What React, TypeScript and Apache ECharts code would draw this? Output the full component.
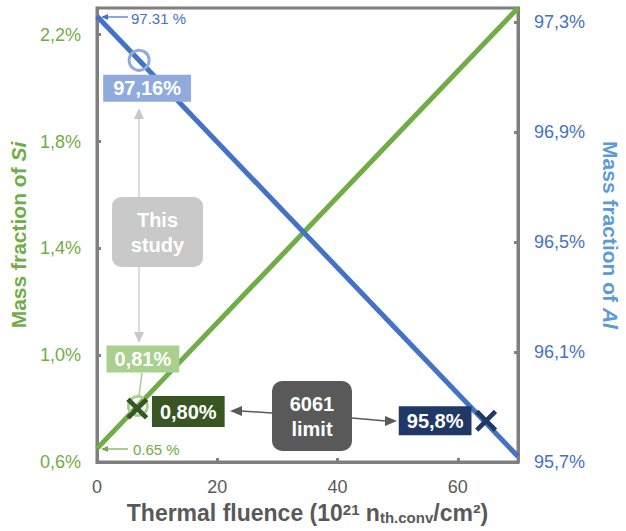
import React, { useEffect, useRef } from "react";
import * as echarts from "echarts";

const fluence = [0, 70];
const siValues = [0.65, 2.3];
const alValues = [97.32, 95.72];
const xTicks = [0, 20, 40, 60];
const siTicks = [0.6, 1.0, 1.4, 1.8, 2.2];
const alTicks = [95.7, 96.1, 96.5, 96.9, 97.3];
const siStudy = [6.8, 0.81];
const siLimit = [6.7, 0.8];
const alStudy = [7.0, 97.16];
const alLimit = [64.7, 95.85];

const FONT = "Liberation Sans, Arial, sans-serif";
const GREEN = "#70ad47";
const BLUE = "#4472c4";
const GRAY = "#7f7f7f";
const TXT = "#595959";
const CROSS =
  "path://M3,0 L10,7 L17,0 L20,3 L13,10 L20,17 L17,20 L10,13 L3,20 L0,17 L7,10 L0,3 Z";

const fmt = (v: number) => v.toFixed(1).replace(".", ",") + "%";

export default function App() {
  const ref = useRef<HTMLDivElement>(null);
  useEffect(() => {
    const chart = echarts.init(ref.current!, null, { renderer: "svg" });
    const boxLabel = (text: string, bg: string, offset: number[], pad: number[]) => ({
      show: true,
      position: "inside",
      offset,
      formatter: text,
      color: "#fff",
      opacity: 1,
      fontFamily: FONT,
      fontWeight: "bold",
      fontSize: 20,
      backgroundColor: bg,
      padding: pad,
    });
    chart.setOption({
      animation: false,
      textStyle: { fontFamily: FONT },
      grid: {
        left: 97,
        right: 108,
        top: 8,
        bottom: 69,
        outerBoundsMode: "none",
        containLabel: false,
        show: true,
        borderColor: GRAY,
        borderWidth: 3,
      },
      xAxis: {
        type: "value",
        min: 0,
        max: 70,
        interval: 20,
        splitLine: { show: false },
        axisLine: { show: true, lineStyle: { color: GRAY, width: 3 } },
        axisTick: {
          show: true,
          inside: true,
          length: 4,
          customValues: xTicks,
          lineStyle: { color: GRAY, width: 3 },
        },
        axisLabel: { customValues: xTicks, color: TXT, fontSize: 18, margin: 16, fontFamily: FONT },
        name: "{b|Thermal fluence (10}{sup|21}{b| n}{sub|th.conv}{b|/cm²)}",
        nameLocation: "middle",
        nameGap: 39,
        nameTextStyle: {
          rich: {
            b: { fontSize: 23, fontWeight: "bold", color: TXT, fontFamily: FONT },
            sup: { fontSize: 15, fontWeight: "bold", color: TXT, fontFamily: FONT, padding: [0, 0, 7, 0] },
            sub: { fontSize: 15, fontWeight: "bold", color: TXT, fontFamily: FONT, padding: [9, 0, 0, 0] },
          },
        },
      },
      yAxis: [
        {
          type: "value",
          min: 0.6,
          max: 2.3,
          position: "left",
          splitLine: { show: false },
          axisLine: { show: true, lineStyle: { color: GRAY, width: 3 } },
          axisTick: {
            show: true,
            inside: true,
            length: 4,
            customValues: siTicks,
            lineStyle: { color: GRAY, width: 3 },
          },
          axisLabel: {
            customValues: siTicks,
            formatter: fmt,
            color: GREEN,
            fontSize: 18,
            margin: 16,
            fontFamily: FONT,
          },
          name: "{a|Mass fraction of }{i|Si}",
          nameLocation: "middle",
          nameGap: 64,
          nameTextStyle: {
            rich: {
              a: { fontSize: 21, fontWeight: "bold", color: GREEN, fontFamily: FONT },
              i: { fontSize: 21, fontWeight: "bold", fontStyle: "italic", color: GREEN, fontFamily: FONT },
            },
          },
        },
        {
          type: "value",
          min: 95.7,
          max: 97.35,
          position: "right",
          splitLine: { show: false },
          axisLine: { show: true, lineStyle: { color: GRAY, width: 3 } },
          axisTick: {
            show: true,
            inside: true,
            length: 4,
            customValues: alTicks,
            lineStyle: { color: GRAY, width: 3 },
          },
          axisLabel: {
            customValues: alTicks,
            formatter: fmt,
            color: BLUE,
            fontSize: 18,
            margin: 16,
            fontFamily: FONT,
          },
          name: "{a|Mass fraction of }{i|Al}",
          nameLocation: "middle",
          nameRotate: -90,
          nameGap: 82,
          nameTextStyle: {
            rich: {
              a: { fontSize: 21, fontWeight: "bold", color: "#5b9bd5", fontFamily: FONT },
              i: { fontSize: 21, fontWeight: "bold", fontStyle: "italic", color: "#5b9bd5", fontFamily: FONT },
            },
          },
        },
      ],
      series: [
        {
          type: "line",
          yAxisIndex: 0,
          data: fluence.map((x, i) => [x, siValues[i]]),
          symbol: "none",
          lineStyle: { color: GREEN, width: 5 },
          z: 2,
        },
        {
          type: "line",
          yAxisIndex: 1,
          data: fluence.map((x, i) => [x, alValues[i]]),
          symbol: "none",
          lineStyle: { color: BLUE, width: 5 },
          z: 2,
        },
        {
          type: "scatter",
          yAxisIndex: 1,
          data: [alStudy],
          symbol: "circle",
          symbolSize: 20,
          itemStyle: { color: "none", borderColor: "#8faadc", borderWidth: 3, opacity: 1 },
          label: boxLabel("97,16%", "#8faadc", [8, 28], [4, 10, 3, 10]),
          z: 5,
        },
        {
          type: "scatter",
          yAxisIndex: 0,
          data: [siStudy],
          symbol: "circle",
          symbolSize: 19,
          itemStyle: { color: "none", borderColor: "#a9d08e", borderWidth: 3, opacity: 1 },
          label: boxLabel("0,81%", "#a9d08e", [5, -47], [4, 8, 3, 8]),
          z: 5,
        },
        {
          type: "scatter",
          yAxisIndex: 0,
          data: [siLimit],
          symbol: CROSS,
          symbolSize: 22,
          itemStyle: { color: "#375623", opacity: 1 },
          label: boxLabel("0,80%", "#375623", [51, 3], [6, 8, 5, 8]),
          z: 6,
        },
        {
          type: "scatter",
          yAxisIndex: 1,
          data: [alLimit],
          symbol: CROSS,
          symbolSize: 22,
          itemStyle: { color: "#203864", opacity: 1 },
          label: boxLabel("95,8%", "#203864", [-51, 0], [5, 8, 4, 8]),
          z: 6,
        },
      ],
      graphic: [
        // "This study" box & arrows
        { type: "line", z: 100, shape: { x1: 139, y1: 117, x2: 139, y2: 197 }, style: { stroke: "#d0d0d0", lineWidth: 1.5 } },
        { type: "polygon", z: 100, shape: { points: [[139, 108], [134, 119], [144, 119]] }, style: { fill: "#c8c8c8" } },
        { type: "line", z: 100, shape: { x1: 139, y1: 267, x2: 139, y2: 334 }, style: { stroke: "#d0d0d0", lineWidth: 1.5 } },
        { type: "polygon", z: 100, shape: { points: [[139, 343], [134, 332], [144, 332]] }, style: { fill: "#c8c8c8" } },
        { type: "rect", z: 100, shape: { x: 112, y: 197, width: 91, height: 70, r: 9 }, style: { fill: "#c9c9c9" } },
        {
          type: "text", z: 101, x: 157.5, y: 232,
          style: { text: "This\nstudy", fill: "#fff", font: `bold 20px ${FONT}`, align: "center", verticalAlign: "middle", lineHeight: 25 },
        },
        // connector between 0,81% box and circle
        { type: "line", z: 100, shape: { x1: 142, y1: 373, x2: 139, y2: 396 }, style: { stroke: "#a9d08e", lineWidth: 1.5 } },
        // 6061 limit box & arrows
        { type: "line", z: 100, shape: { x1: 272, y1: 413, x2: 241, y2: 411 }, style: { stroke: TXT, lineWidth: 1.5 } },
        { type: "polygon", z: 100, shape: { points: [[230, 411], [242, 406], [242, 416]] }, style: { fill: TXT } },
        { type: "line", z: 100, shape: { x1: 352, y1: 418, x2: 386, y2: 421 }, style: { stroke: TXT, lineWidth: 1.5 } },
        { type: "polygon", z: 100, shape: { points: [[397, 421], [385, 416], [385, 426]] }, style: { fill: TXT } },
        { type: "rect", z: 100, shape: { x: 272, y: 381, width: 80, height: 70, r: 10 }, style: { fill: "#595959" } },
        {
          type: "text", z: 101, x: 312, y: 416,
          style: { text: "6061\nlimit", fill: "#fff", font: `bold 20px ${FONT}`, align: "center", verticalAlign: "middle", lineHeight: 25 },
        },
        // start value annotations
        { type: "line", z: 100, shape: { x1: 106, y1: 17, x2: 128, y2: 17 }, style: { stroke: BLUE, lineWidth: 1.2 } },
        { type: "polygon", z: 100, shape: { points: [[101, 17], [108, 14], [108, 20]] }, style: { fill: BLUE } },
        {
          type: "text", z: 101, x: 131, y: 18,
          style: { text: "97.31 %", fill: BLUE, font: `15px ${FONT}`, align: "left", verticalAlign: "middle" },
        },
        { type: "line", z: 100, shape: { x1: 106, y1: 449, x2: 128, y2: 449 }, style: { stroke: GREEN, lineWidth: 1.2 } },
        { type: "polygon", z: 100, shape: { points: [[101, 449], [108, 446], [108, 452]] }, style: { fill: GREEN } },
        {
          type: "text", z: 101, x: 133, y: 449,
          style: { text: "0.65 %", fill: GREEN, font: `15px ${FONT}`, align: "left", verticalAlign: "middle" },
        },
      ],
    });
    return () => chart.dispose();
  }, []);
  return <div ref={ref} style={{ width: 626, height: 531, position: "absolute", left: 0, top: 0 }} />;
}
